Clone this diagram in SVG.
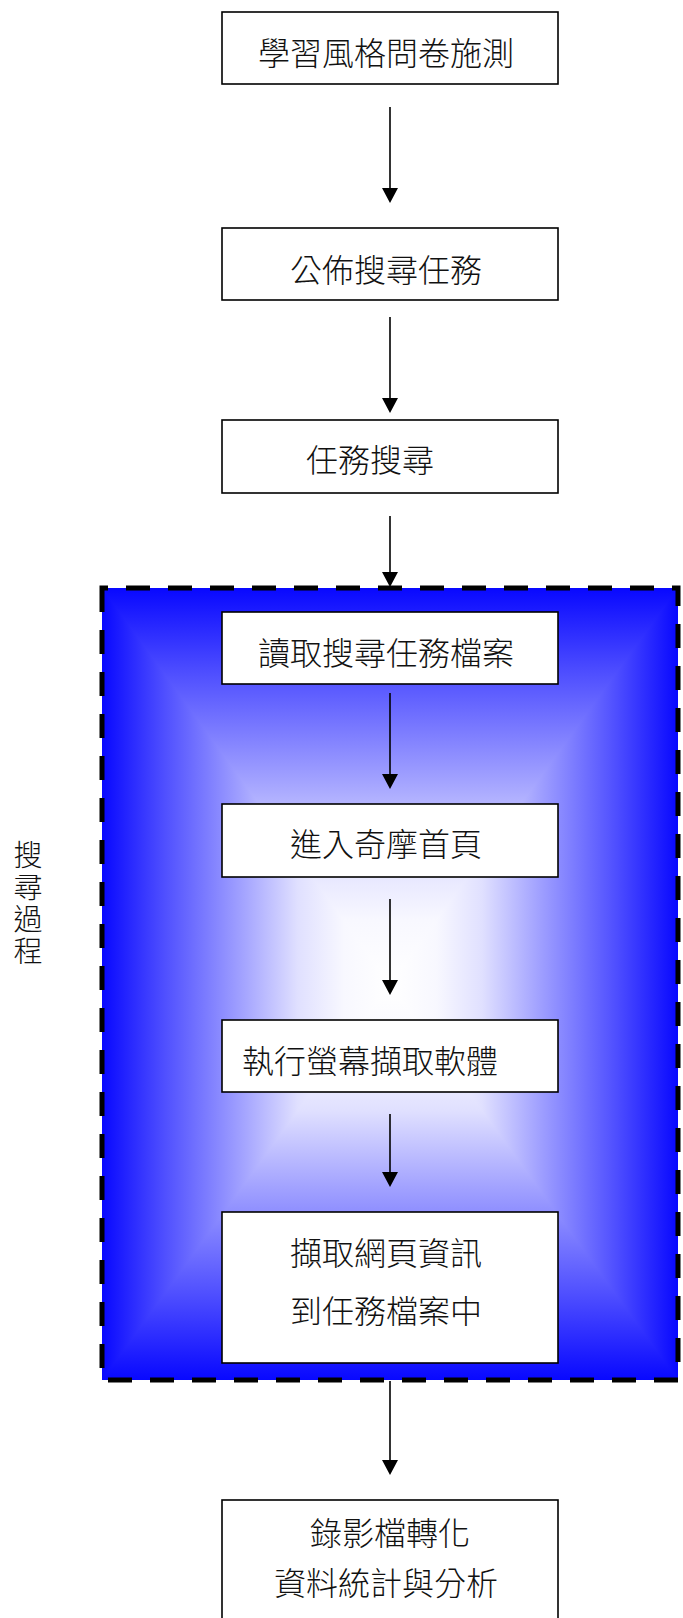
<svg xmlns="http://www.w3.org/2000/svg" width="683" height="1618" viewBox="0 0 683 1618">
<style>
.box{fill:#fff;stroke:#000;stroke-width:1.6}
.t{font-family:"Noto Sans CJK TC","Noto Sans CJK SC",sans-serif;font-size:32px;font-weight:300;fill:#111;text-anchor:middle}
.s{font-size:29px;writing-mode:vertical-rl;text-anchor:start;letter-spacing:3px}
.c{stroke:#000;stroke-width:1.6;fill:none;marker-end:url(#ah)}
</style>
<defs>
<linearGradient id="gh" x1="102" y1="0" x2="678" y2="0" gradientUnits="userSpaceOnUse">
<stop offset="0" stop-color="#0808ff"/>
<stop offset="0.11" stop-color="#5050ff"/>
<stop offset="0.24" stop-color="#a0a0ff"/>
<stop offset="0.34" stop-color="#e0e0ff"/>
<stop offset="0.42" stop-color="#f8f8ff"/>
<stop offset="0.5" stop-color="#ffffff"/>
<stop offset="0.58" stop-color="#f8f8ff"/>
<stop offset="0.66" stop-color="#e0e0ff"/>
<stop offset="0.76" stop-color="#a0a0ff"/>
<stop offset="0.89" stop-color="#5050ff"/>
<stop offset="1" stop-color="#0808ff"/>
</linearGradient>
<linearGradient id="gv" x1="0" y1="588" x2="0" y2="1380" gradientUnits="userSpaceOnUse">
<stop offset="0" stop-color="#0808ff"/>
<stop offset="0.11" stop-color="#5050ff"/>
<stop offset="0.24" stop-color="#a0a0ff"/>
<stop offset="0.34" stop-color="#e0e0ff"/>
<stop offset="0.42" stop-color="#f8f8ff"/>
<stop offset="0.5" stop-color="#ffffff"/>
<stop offset="0.58" stop-color="#f8f8ff"/>
<stop offset="0.66" stop-color="#e0e0ff"/>
<stop offset="0.76" stop-color="#a0a0ff"/>
<stop offset="0.89" stop-color="#5050ff"/>
<stop offset="1" stop-color="#0808ff"/>
</linearGradient>
<marker id="ah" viewBox="0 0 15 16" refX="5" refY="8" markerWidth="15" markerHeight="16" markerUnits="userSpaceOnUse" orient="auto">
<path d="M0,0 L15,8 L0,16 Z" fill="#000"/>
</marker>
</defs>

<g id="search-process">
<g style="isolation:isolate">
<rect x="102" y="588" width="576" height="792" fill="url(#gh)"/>
<rect x="102" y="588" width="576" height="792" fill="url(#gv)" style="mix-blend-mode:darken"/>
</g>
<rect x="102" y="588" width="576" height="792" fill="none" stroke="#000" stroke-width="5" stroke-dasharray="24 18" stroke-dashoffset="18"/>
<text class="t s" x="28" y="840">搜尋過程</text>
</g>

<g id="connectors">
<line class="c" x1="390" y1="107" x2="390" y2="193"/>
<line class="c" x1="390" y1="317" x2="390" y2="403"/>
<line class="c" x1="390" y1="516" x2="390" y2="577"/>
<line class="c" x1="390" y1="693" x2="390" y2="779"/>
<line class="c" x1="390" y1="899" x2="390" y2="985"/>
<line class="c" x1="390" y1="1114" x2="390" y2="1177"/>
<line class="c" x1="390" y1="1381" x2="390" y2="1465"/>
</g>

<g id="n1"><rect class="box" x="222" y="12" width="336" height="72"/><text class="t" x="386" y="65">學習風格問卷施測</text></g>
<g id="n2"><rect class="box" x="222" y="228" width="336" height="72"/><text class="t" x="386" y="282">公佈搜尋任務</text></g>
<g id="n3"><rect class="box" x="222" y="420" width="336" height="73"/><text class="t" x="370" y="472">任務搜尋</text></g>
<g id="n4"><rect class="box" x="222" y="612" width="336" height="72"/><text class="t" x="386" y="665">讀取搜尋任務檔案</text></g>
<g id="n5"><rect class="box" x="222" y="804" width="336" height="73"/><text class="t" x="386" y="856">進入奇摩首頁</text></g>
<g id="n6"><rect class="box" x="222" y="1020" width="336" height="72"/><text class="t" x="370" y="1073">執行螢幕擷取軟體</text></g>
<g id="n7"><rect class="box" x="222" y="1212" width="336" height="151"/><text class="t" x="386" y="1265">擷取網頁資訊</text><text class="t" x="386" y="1323">到任務檔案中</text></g>
<g id="n8"><rect class="box" x="222" y="1500" width="336" height="140"/><text class="t" x="390" y="1545">錄影檔轉化</text><text class="t" x="386" y="1595">資料統計與分析</text></g>
</svg>
